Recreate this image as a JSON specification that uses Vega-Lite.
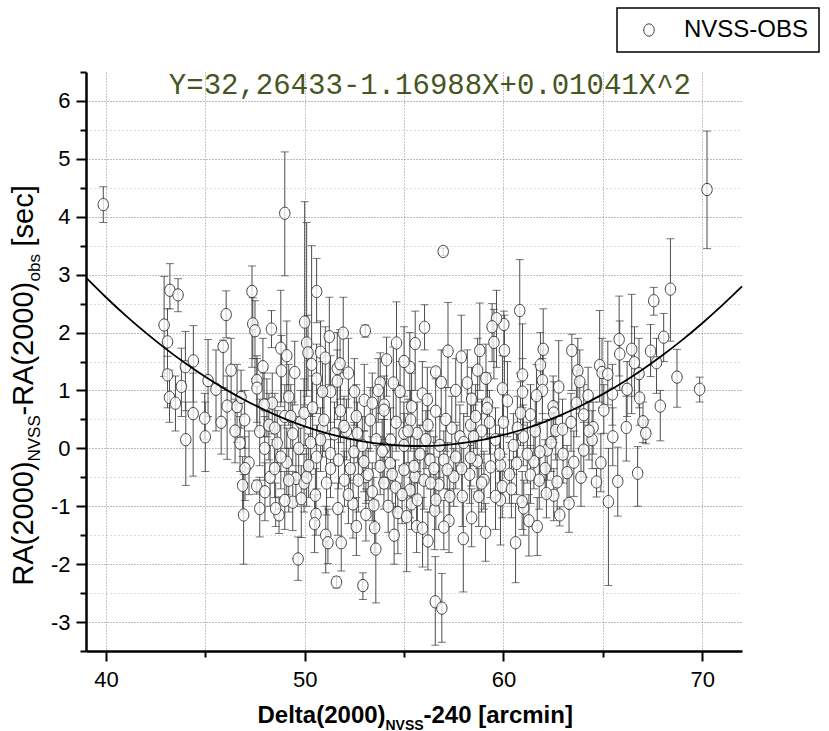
{
"$schema": "https://vega.github.io/schema/vega-lite/v6.json",
"width": 656, "height": 579,
"autosize": {"type": "none"},
"padding": {"left": 86, "top": 72, "right": 87, "bottom": 80},
"background": "white",
"config": {
 "view": {"stroke": null},
 "axis": {"labelColor": "black", "titleColor": "black", "labelFont": "Liberation Sans", "titleFont": "Liberation Sans", "titleFontWeight": "normal"},
 "legend": {"strokeColor": "black", "strokeWidth": 1.5, "padding": 10}
},
"datasets": {
 "pts": [
{"x":39.87,"y":4.21,"lo":3.90,"hi":4.52},{"x":49.0,"y":4.06,"lo":2.98,"hi":5.12},{"x":43.22,"y":2.73,"lo":2.41,"hi":3.19},{"x":43.63,"y":2.65,"lo":2.36,"hi":2.93},{"x":42.93,"y":2.13,"lo":1.24,"hi":2.97},{"x":43.1,"y":1.84,"lo":1.30,"hi":2.41},{"x":43.1,"y":1.27,"lo":0.70,"hi":1.59},{"x":43.2,"y":0.88,"lo":0.45,"hi":1.35},{"x":43.5,"y":0.78,"lo":0.30,"hi":1.25},{"x":43.8,"y":1.07,"lo":0.55,"hi":1.73},{"x":44.0,"y":1.41,"lo":0.65,"hi":2.02},{"x":44.4,"y":1.51,"lo":0.80,"hi":2.12},{"x":46.05,"y":2.31,"lo":1.91,"hi":2.72},{"x":45.9,"y":1.76,"lo":1.05,"hi":1.87},{"x":45.14,"y":1.17,"lo":0.55,"hi":1.88},{"x":45.54,"y":1.02,"lo":0.30,"hi":1.70},{"x":46.1,"y":0.73,"lo":-0.19,"hi":1.25},{"x":46.6,"y":0.72,"lo":0.10,"hi":1.45},{"x":46.8,"y":0.88,"lo":0.35,"hi":1.35},{"x":47.35,"y":2.71,"lo":1.40,"hi":3.15},{"x":47.39,"y":2.15,"lo":1.55,"hi":2.60},{"x":47.5,"y":2.03,"lo":1.20,"hi":2.55},{"x":47.9,"y":1.41,"lo":0.80,"hi":1.90},{"x":47.6,"y":1.17,"lo":0.45,"hi":1.60},{"x":47.6,"y":1.04,"lo":0.30,"hi":1.55},{"x":48.33,"y":2.06,"lo":1.74,"hi":2.38},{"x":48.8,"y":1.73,"lo":0.72,"hi":2.73},{"x":48.83,"y":1.34,"lo":0.80,"hi":1.95},{"x":49.2,"y":0.89,"lo":0.40,"hi":1.45},{"x":49.5,"y":1.31,"lo":0.75,"hi":1.85},{"x":48.1,"y":0.75,"lo":0.20,"hi":1.20},{"x":48.37,"y":0.78,"lo":0.25,"hi":1.30},{"x":50.0,"y":2.18,"lo":0.75,"hi":4.26},{"x":50.1,"y":1.82,"lo":0.90,"hi":3.90},{"x":50.17,"y":1.65,"lo":1.00,"hi":2.30},{"x":50.35,"y":1.45,"lo":0.55,"hi":3.50},{"x":50.6,"y":2.71,"lo":2.17,"hi":3.28},{"x":50.8,"y":1.66,"lo":1.00,"hi":2.20},{"x":51.24,"y":1.93,"lo":1.10,"hi":2.61},{"x":51.04,"y":1.56,"lo":0.90,"hi":2.10},{"x":51.64,"y":1.38,"lo":0.70,"hi":2.00},{"x":51.94,"y":1.99,"lo":1.30,"hi":2.61},{"x":51.78,"y":1.46,"lo":0.85,"hi":2.05},{"x":51.64,"y":1.16,"lo":0.50,"hi":1.70},{"x":51.3,"y":0.98,"lo":0.30,"hi":1.60},{"x":50.9,"y":0.98,"lo":0.40,"hi":1.50},{"x":53.05,"y":2.03,"lo":1.92,"hi":2.13},{"x":54.62,"y":1.82,"lo":1.10,"hi":2.53},{"x":54.12,"y":1.53,"lo":0.90,"hi":1.92},{"x":55.56,"y":1.81,"lo":1.00,"hi":2.37},{"x":55.29,"y":1.40,"lo":0.80,"hi":2.00},{"x":54.46,"y":1.13,"lo":0.50,"hi":1.75},{"x":53.8,"y":1.13,"lo":0.60,"hi":1.65},{"x":52.5,"y":0.98,"lo":0.40,"hi":1.55},{"x":53.0,"y":0.83,"lo":0.30,"hi":1.45},{"x":53.4,"y":0.78,"lo":0.20,"hi":1.30},{"x":54.0,"y":0.75,"lo":0.15,"hi":1.25},{"x":54.8,"y":0.98,"lo":0.45,"hi":1.50},{"x":55.38,"y":0.72,"lo":0.20,"hi":1.30},
{"x":70.24,"y":4.47,"lo":3.45,"hi":5.48},{"x":56.97,"y":3.40,"lo":3.33,"hi":3.46},{"x":68.4,"y":2.75,"lo":1.85,"hi":3.62},{"x":67.56,"y":2.55,"lo":2.30,"hi":2.78},{"x":68.06,"y":1.92,"lo":1.50,"hi":2.33},{"x":67.4,"y":1.68,"lo":1.24,"hi":2.14},{"x":67.7,"y":1.48,"lo":0.95,"hi":1.90},{"x":68.73,"y":1.23,"lo":0.71,"hi":1.71},{"x":69.87,"y":1.02,"lo":0.80,"hi":1.23},{"x":65.82,"y":1.88,"lo":1.25,"hi":2.63},{"x":65.85,"y":1.63,"lo":1.00,"hi":2.20},{"x":66.45,"y":1.71,"lo":0.60,"hi":2.66},{"x":66.59,"y":1.48,"lo":0.90,"hi":2.10},{"x":66.82,"y":1.29,"lo":0.70,"hi":1.90},{"x":66.85,"y":0.87,"lo":0.40,"hi":1.30},{"x":66.22,"y":1.02,"lo":0.55,"hi":1.50},{"x":64.84,"y":1.43,"lo":0.80,"hi":2.38},{"x":64.96,"y":1.31,"lo":0.70,"hi":1.90},{"x":65.25,"y":1.28,"lo":0.75,"hi":1.85},{"x":65.48,"y":0.94,"lo":0.40,"hi":1.45},{"x":64.26,"y":0.91,"lo":0.40,"hi":1.40},{"x":63.44,"y":1.69,"lo":1.00,"hi":1.97},{"x":63.74,"y":1.34,"lo":0.75,"hi":1.90},{"x":63.84,"y":1.15,"lo":0.60,"hi":1.70},{"x":63.67,"y":0.78,"lo":0.20,"hi":1.35},{"x":62.78,"y":1.06,"lo":0.55,"hi":1.86},{"x":62.0,"y":1.71,"lo":1.10,"hi":2.41},{"x":61.86,"y":1.44,"lo":0.90,"hi":2.00},{"x":61.96,"y":1.17,"lo":0.60,"hi":1.70},{"x":61.96,"y":1.00,"lo":0.45,"hi":1.55},{"x":61.66,"y":0.91,"lo":0.35,"hi":1.45},{"x":60.96,"y":1.27,"lo":0.70,"hi":2.15},{"x":60.96,"y":0.97,"lo":0.40,"hi":1.55},{"x":60.82,"y":2.38,"lo":1.30,"hi":3.26},{"x":60.05,"y":1.69,"lo":1.00,"hi":2.30},{"x":60.02,"y":2.14,"lo":1.60,"hi":2.37},{"x":59.65,"y":2.24,"lo":1.40,"hi":2.73},{"x":59.52,"y":1.83,"lo":1.20,"hi":2.40},{"x":59.43,"y":2.10,"lo":1.50,"hi":2.50},{"x":59.95,"y":1.03,"lo":0.50,"hi":1.60},{"x":59.12,"y":1.21,"lo":0.60,"hi":1.80},{"x":58.81,"y":1.69,"lo":1.00,"hi":2.51},{"x":57.88,"y":1.58,"lo":0.80,"hi":2.30},{"x":58.18,"y":1.13,"lo":0.55,"hi":1.70},{"x":57.21,"y":1.68,"lo":1.05,"hi":2.52},{"x":56.87,"y":1.14,"lo":0.55,"hi":1.70},{"x":56.59,"y":1.32,"lo":1.25,"hi":1.40},{"x":56.03,"y":2.09,"lo":1.70,"hi":2.48},{"x":55.92,"y":0.94,"lo":0.40,"hi":1.50},{"x":56.17,"y":0.84,"lo":0.30,"hi":1.40},{"x":58.4,"y":0.85,"lo":0.30,"hi":1.40},{"x":59.2,"y":0.78,"lo":0.25,"hi":1.30},{"x":60.2,"y":0.82,"lo":0.20,"hi":1.50},{"x":62.5,"y":0.72,"lo":0.15,"hi":1.25},
{"x":44.02,"y":0.15,"lo":-0.64,"hi":0.80},{"x":44.39,"y":0.60,"lo":-0.48,"hi":1.30},{"x":44.97,"y":0.52,"lo":0.16,"hi":0.95},{"x":46.88,"y":-0.64,"lo":-1.10,"hi":-0.14},{"x":46.93,"y":-1.15,"lo":-2.00,"hi":-0.45},{"x":47.59,"y":-0.65,"lo":-0.79,"hi":-0.55},{"x":47.74,"y":-1.04,"lo":-1.53,"hi":-0.50},{"x":47.74,"y":0.29,"lo":-0.30,"hi":0.85},{"x":47.99,"y":0.0,"lo":-0.55,"hi":0.55},{"x":48.26,"y":-0.50,"lo":-1.00,"hi":0.05},{"x":48.49,"y":-0.35,"lo":-0.85,"hi":0.15},{"x":48.62,"y":0.09,"lo":-0.40,"hi":0.65},{"x":48.71,"y":-1.15,"lo":-1.47,"hi":-0.84},{"x":48.54,"y":-1.04,"lo":-1.35,"hi":-0.60},{"x":49.1,"y":-0.24,"lo":-0.80,"hi":0.35},{"x":49.4,"y":-0.93,"lo":-1.42,"hi":-0.40},{"x":49.83,"y":-0.87,"lo":-1.54,"hi":-0.30},{"x":49.67,"y":-1.91,"lo":-2.28,"hi":-1.53},{"x":49.56,"y":-0.52,"lo":-1.00,"hi":0.00},{"x":49.97,"y":-0.60,"lo":-1.10,"hi":-0.10},{"x":50.54,"y":-0.81,"lo":-1.20,"hi":-0.35},{"x":50.57,"y":-1.14,"lo":-1.50,"hi":-0.80},{"x":51.06,"y":-1.50,"lo":-2.15,"hi":-1.00},{"x":51.17,"y":-1.63,"lo":-1.99,"hi":-1.05},{"x":51.84,"y":-1.63,"lo":-2.12,"hi":-1.10},{"x":51.6,"y":-2.31,"lo":-2.41,"hi":-2.22},{"x":52.93,"y":-2.37,"lo":-2.61,"hi":-2.15},{"x":53.58,"y":-1.74,"lo":-2.67,"hi":-1.30},{"x":51.67,"y":-1.04,"lo":-1.50,"hi":-0.60},{"x":52.43,"y":-0.96,"lo":-1.55,"hi":-0.60},{"x":53.08,"y":-1.14,"lo":-1.60,"hi":-0.70},{"x":53.52,"y":-1.37,"lo":-1.80,"hi":-0.90},{"x":53.48,"y":-0.98,"lo":-1.40,"hi":-0.50},{"x":53.08,"y":-0.49,"lo":-0.95,"hi":0.00},{"x":54.2,"y":-1.00,"lo":-1.45,"hi":-0.50},{"x":54.69,"y":-1.11,"lo":-1.82,"hi":-0.60},{"x":55.13,"y":-1.18,"lo":-2.13,"hi":-0.70},{"x":55.63,"y":-1.35,"lo":-1.80,"hi":-0.90},{"x":55.38,"y":-0.96,"lo":-1.40,"hi":-0.50},{"x":54.57,"y":-0.67,"lo":-1.10,"hi":-0.20},{"x":53.99,"y":-0.60,"lo":-1.05,"hi":-0.15},{"x":53.2,"y":-0.45,"lo":-0.90,"hi":0.00},{"x":52.0,"y":-0.55,"lo":-1.00,"hi":-0.05},{"x":51.3,"y":-0.35,"lo":-0.85,"hi":0.15},{"x":50.1,"y":-0.50,"lo":-1.00,"hi":0.00},{"x":50.6,"y":-0.15,"lo":-0.70,"hi":0.40},{"x":51.3,"y":-0.09,"lo":-0.60,"hi":0.45},{"x":51.7,"y":-0.20,"lo":-0.70,"hi":0.35},{"x":52.48,"y":-0.06,"lo":-0.55,"hi":0.45},{"x":52.98,"y":-0.23,"lo":-0.75,"hi":0.30},{"x":53.8,"y":-0.31,"lo":-0.80,"hi":0.20},{"x":54.3,"y":-0.26,"lo":-0.70,"hi":0.25},{"x":55.0,"y":-0.37,"lo":-0.85,"hi":0.10},{"x":55.3,"y":-0.72,"lo":-1.20,"hi":-0.25},{"x":55.55,"y":-0.49,"lo":-0.90,"hi":0.00},{"x":52.1,"y":0.30,"lo":-0.20,"hi":0.85},{"x":50.9,"y":0.35,"lo":-0.15,"hi":0.90},{"x":49.8,"y":0.45,"lo":-0.10,"hi":1.00},{"x":49.0,"y":0.55,"lo":0.00,"hi":1.10},{"x":48.2,"y":0.40,"lo":-0.20,"hi":0.95},{"x":46.98,"y":0.49,"lo":0.00,"hi":1.00},{"x":46.75,"y":0.09,"lo":-0.40,"hi":0.55},
{"x":47.96,"y":0.75,"lo":0.20,"hi":1.30},{"x":49.3,"y":0.55,"lo":0.00,"hi":1.10},{"x":49.97,"y":0.61,"lo":0.05,"hi":1.20},{"x":50.97,"y":0.49,"lo":-0.05,"hi":1.05},{"x":51.98,"y":0.38,"lo":-0.15,"hi":0.90},{"x":52.65,"y":0.26,"lo":-0.25,"hi":0.80},{"x":53.3,"y":0.49,"lo":-0.05,"hi":1.05},{"x":53.99,"y":0.66,"lo":0.10,"hi":1.20},{"x":54.32,"y":0.14,"lo":-0.40,"hi":0.70},{"x":54.99,"y":0.26,"lo":-0.30,"hi":0.80},{"x":55.33,"y":0.49,"lo":-0.05,"hi":1.00},
{"x":56.57,"y":-2.65,"lo":-3.40,"hi":-1.87},{"x":56.9,"y":-2.76,"lo":-3.35,"hi":-2.16},{"x":57.98,"y":-1.56,"lo":-2.48,"hi":-0.90},{"x":60.61,"y":-1.63,"lo":-2.32,"hi":-0.95},{"x":65.28,"y":-0.92,"lo":-2.37,"hi":0.00},{"x":65.75,"y":-0.57,"lo":-1.17,"hi":0.02},{"x":66.75,"y":-0.43,"lo":-1.00,"hi":0.03},{"x":64.68,"y":-0.58,"lo":-0.84,"hi":-0.35},{"x":66.18,"y":0.36,"lo":-0.22,"hi":0.90},{"x":67.16,"y":0.26,"lo":0.08,"hi":0.49},{"x":67.02,"y":0.46,"lo":0.10,"hi":0.80},{"x":67.89,"y":0.73,"lo":0.13,"hi":1.00},{"x":65.05,"y":0.66,"lo":0.26,"hi":1.10},{"x":64.51,"y":0.36,"lo":-0.10,"hi":0.80},{"x":64.04,"y":-0.03,"lo":-0.50,"hi":0.45},{"x":63.54,"y":-0.24,"lo":-0.83,"hi":0.30},{"x":63.2,"y":-0.42,"lo":-0.90,"hi":0.05},{"x":62.63,"y":0.31,"lo":-0.20,"hi":0.80},{"x":62.97,"y":0.33,"lo":-0.15,"hi":0.85},{"x":62.7,"y":-0.58,"lo":-1.10,"hi":-0.10},{"x":62.53,"y":-0.81,"lo":-1.25,"hi":-0.35},{"x":62.16,"y":-0.78,"lo":-1.20,"hi":-0.30},{"x":62.83,"y":-1.15,"lo":-1.34,"hi":-1.01},{"x":61.28,"y":-1.25,"lo":-1.86,"hi":-0.80},{"x":61.02,"y":-1.03,"lo":-1.50,"hi":-0.55},{"x":60.94,"y":-0.92,"lo":-1.40,"hi":-0.40},{"x":59.85,"y":-0.89,"lo":-1.67,"hi":-0.40},{"x":62.2,"y":-0.03,"lo":-0.55,"hi":0.50},{"x":61.83,"y":-0.06,"lo":-0.60,"hi":0.45},{"x":61.53,"y":-0.23,"lo":-0.70,"hi":0.30},{"x":61.36,"y":-0.46,"lo":-0.95,"hi":0.05},{"x":60.66,"y":-0.26,"lo":-0.80,"hi":0.30},{"x":59.94,"y":-0.66,"lo":-1.20,"hi":-0.15},{"x":59.6,"y":-0.83,"lo":-1.40,"hi":-0.30},{"x":59.85,"y":-0.29,"lo":-0.80,"hi":0.25},{"x":57.26,"y":-1.25,"lo":-1.80,"hi":-0.70},{"x":57.0,"y":-1.36,"lo":-1.75,"hi":-0.90},{"x":55.93,"y":-1.38,"lo":-2.05,"hi":-0.85},{"x":56.54,"y":-1.07,"lo":-1.75,"hi":-0.60},{"x":57.93,"y":-0.83,"lo":-1.35,"hi":-0.30},{"x":58.76,"y":-0.83,"lo":-1.35,"hi":-0.35},{"x":57.3,"y":-0.83,"lo":-1.30,"hi":-0.35},{"x":56.75,"y":-0.63,"lo":-1.10,"hi":-0.15},{"x":56.6,"y":-0.89,"lo":-1.40,"hi":-0.40},{"x":57.81,"y":0.20,"lo":-0.30,"hi":0.75},{"x":57.0,"y":-0.20,"lo":-0.70,"hi":0.30},{"x":56.3,"y":-0.20,"lo":-0.70,"hi":0.30},{"x":55.66,"y":0.26,"lo":-0.25,"hi":0.80},{"x":56.59,"y":0.64,"lo":0.10,"hi":1.20},{"x":58.35,"y":0.40,"lo":-0.10,"hi":0.95},{"x":59.18,"y":0.69,"lo":0.15,"hi":1.25},{"x":60.86,"y":0.61,"lo":0.05,"hi":1.15},{"x":61.36,"y":0.58,"lo":0.00,"hi":1.10},{"x":62.53,"y":0.61,"lo":0.10,"hi":1.15},{"x":64.04,"y":0.58,"lo":0.05,"hi":1.10},{"x":64.46,"y":0.15,"lo":-0.35,"hi":0.65},{"x":59.02,"y":-0.55,"lo":-1.05,"hi":-0.05},{"x":59.35,"y":-0.32,"lo":-0.85,"hi":0.20},{"x":58.68,"y":-0.22,"lo":-0.75,"hi":0.30},{"x":58.35,"y":-0.16,"lo":-0.65,"hi":0.35},{"x":57.5,"y":-0.49,"lo":-1.00,"hi":0.00},{"x":57.17,"y":-0.37,"lo":-0.85,"hi":0.10},{"x":56.0,"y":-0.55,"lo":-1.05,"hi":-0.05},{"x":55.67,"y":-0.89,"lo":-1.40,"hi":-0.40},{"x":56.34,"y":-0.60,"lo":-1.10,"hi":-0.10},{"x":55.5,"y":-0.31,"lo":-0.80,"hi":0.20},
{"x":58.0,"y":0.1,"lo":-0.4,"hi":0.6},{"x":58.9,"y":0.3,"lo":-0.25,"hi":0.85},{"x":59.6,"y":0.15,"lo":-0.35,"hi":0.7},{"x":60.5,"y":0.05,"lo":-0.45,"hi":0.6},{"x":61.0,"y":0.2,"lo":-0.3,"hi":0.75},{"x":60.0,"y":0.45,"lo":-0.1,"hi":1.0},{"x":58.6,"y":0.55,"lo":0.0,"hi":1.1},{"x":57.4,"y":0.35,"lo":-0.15,"hi":0.9},{"x":56.8,"y":0.05,"lo":-0.5,"hi":0.55},{"x":56.2,"y":0.4,"lo":-0.1,"hi":0.95},{"x":55.0,"y":0.05,"lo":-0.45,"hi":0.6},{"x":54.6,"y":0.45,"lo":-0.05,"hi":1.0},{"x":53.6,"y":0.15,"lo":-0.35,"hi":0.7},{"x":52.6,"y":0.55,"lo":0.0,"hi":1.1},{"x":51.8,"y":0.65,"lo":0.1,"hi":1.2},{"x":50.4,"y":0.7,"lo":0.15,"hi":1.25},{"x":49.4,"y":0.25,"lo":-0.3,"hi":0.8},{"x":48.8,"y":-0.15,"lo":-0.7,"hi":0.4},{"x":50.3,"y":0.1,"lo":-0.45,"hi":0.65},{"x":52.3,"y":-0.35,"lo":-0.85,"hi":0.15},{"x":54.0,"y":0.0,"lo":-0.5,"hi":0.5},{"x":58.3,"y":-0.45,"lo":-0.95,"hi":0.05},{"x":60.3,"y":-0.45,"lo":-0.95,"hi":0.1},{"x":61.8,"y":-0.55,"lo":-1.05,"hi":-0.05},
{"x":48.5,"y":0.35,"lo":-0.25,"hi":0.95},{"x":49.2,"y":-0.55,"lo":-1.1,"hi":0.0},{"x":49.7,"y":0.0,"lo":-0.55,"hi":0.55},{"x":50.2,"y":-0.3,"lo":-0.85,"hi":0.25},{"x":50.8,"y":0.15,"lo":-0.4,"hi":0.7},{"x":51.1,"y":-0.6,"lo":-1.15,"hi":-0.05},{"x":51.5,"y":0.25,"lo":-0.3,"hi":0.8},{"x":52.2,"y":-0.8,"lo":-1.3,"hi":-0.3},{"x":52.7,"y":-0.55,"lo":-1.1,"hi":0.0},{"x":52.9,"y":0.05,"lo":-0.45,"hi":0.55},{"x":53.4,"y":-0.75,"lo":-1.25,"hi":-0.25},{"x":53.9,"y":-0.05,"lo":-0.6,"hi":0.5},{"x":54.4,"y":-0.45,"lo":-0.95,"hi":0.05},{"x":54.9,"y":-0.8,"lo":-1.3,"hi":-0.3},{"x":55.2,"y":0.3,"lo":-0.25,"hi":0.85},{"x":55.8,"y":-0.1,"lo":-0.6,"hi":0.4},{"x":56.1,"y":0.15,"lo":-0.35,"hi":0.65},{"x":56.5,"y":-0.35,"lo":-0.9,"hi":0.2},{"x":57.1,"y":0.5,"lo":-0.05,"hi":1.05},{"x":57.6,"y":-0.15,"lo":-0.7,"hi":0.4},{"x":57.9,"y":-0.35,"lo":-0.85,"hi":0.15},{"x":58.5,"y":0.2,"lo":-0.3,"hi":0.75},{"x":58.9,"y":-0.6,"lo":-1.1,"hi":-0.1},{"x":59.3,"y":0.45,"lo":-0.1,"hi":1.0},{"x":59.8,"y":-0.1,"lo":-0.6,"hi":0.4},{"x":60.4,"y":-0.7,"lo":-1.2,"hi":-0.2},{"x":60.7,"y":0.35,"lo":-0.15,"hi":0.9},{"x":61.2,"y":-0.1,"lo":-0.6,"hi":0.45},{"x":61.6,"y":0.3,"lo":-0.2,"hi":0.85},{"x":62.1,"y":-0.35,"lo":-0.85,"hi":0.15},{"x":62.4,"y":0.1,"lo":-0.4,"hi":0.6},{"x":63.0,"y":-0.1,"lo":-0.6,"hi":0.4},{"x":63.4,"y":0.45,"lo":-0.05,"hi":0.95},{"x":63.9,"y":-0.5,"lo":-1.0,"hi":0.0},{"x":64.3,"y":0.3,"lo":-0.2,"hi":0.8},{"x":65.5,"y":0.2,"lo":-0.3,"hi":0.7},{"x":48.0,"y":-0.75,"lo":-1.25,"hi":-0.25},{"x":47.2,"y":-0.25,"lo":-0.8,"hi":0.3},{"x":46.5,"y":0.3,"lo":-0.25,"hi":0.85},{"x":45.8,"y":0.45,"lo":-0.1,"hi":1.0},{"x":50.5,"y":-1.3,"lo":-1.8,"hi":-0.8},{"x":52.6,"y":-1.35,"lo":-1.85,"hi":-0.85},{"x":54.5,"y":-1.5,"lo":-2.0,"hi":-1.0},{"x":56.2,"y":-1.6,"lo":-2.1,"hi":-1.1},{"x":58.4,"y":-1.2,"lo":-1.7,"hi":-0.7},{"x":59.1,"y":-1.45,"lo":-1.95,"hi":-0.95},{"x":61.7,"y":-1.35,"lo":-1.85,"hi":-0.85},{"x":63.3,"y":-0.95,"lo":-1.45,"hi":-0.45},{"x":64.9,"y":-0.25,"lo":-0.75,"hi":0.25},{"x":53.7,"y":1.0,"lo":0.45,"hi":1.55},{"x":55.0,"y":1.5,"lo":0.9,"hi":2.1},{"x":57.6,"y":1.0,"lo":0.45,"hi":1.55},{"x":58.7,"y":1.35,"lo":0.8,"hi":1.9},{"x":52.2,"y":1.3,"lo":0.7,"hi":1.9},{"x":50.6,"y":1.2,"lo":0.6,"hi":1.8},{"x":49.1,"y":1.6,"lo":0.95,"hi":2.2},{"x":46.3,"y":1.35,"lo":0.8,"hi":1.9},{"x":45.0,"y":0.2,"lo":-0.4,"hi":0.8},{"x":47.0,"y":-0.35,"lo":-0.9,"hi":0.2},{"x":49.0,"y":-0.9,"lo":-1.4,"hi":-0.4}
 ],
 "curve": [
{"x":39,"y":2.947},{"x":40,"y":2.610},{"x":41,"y":2.293},{"x":42,"y":1.998},{"x":43,"y":1.723},{"x":44,"y":1.469},{"x":45,"y":1.235},{"x":46,"y":1.023},{"x":47,"y":0.831},{"x":48,"y":0.660},{"x":49,"y":0.510},{"x":50,"y":0.380},{"x":51,"y":0.272},{"x":52,"y":0.184},{"x":53,"y":0.117},{"x":54,"y":0.071},{"x":55,"y":0.045},{"x":56,"y":0.041},{"x":57,"y":0.057},{"x":58,"y":0.094},{"x":59,"y":0.152},{"x":60,"y":0.231},{"x":61,"y":0.330},{"x":62,"y":0.450},{"x":63,"y":0.591},{"x":64,"y":0.753},{"x":65,"y":0.936},{"x":66,"y":1.139},{"x":67,"y":1.363},{"x":68,"y":1.608},{"x":69,"y":1.874},{"x":70,"y":2.161},{"x":71,"y":2.468},{"x":72,"y":2.796}
 ]
},
"resolve": {"scale": {"x": "independent", "y": "independent"}, "axis": {"x": "independent", "y": "independent"}},
"layer": [
 {
  "data": {"name": "pts"},
  "mark": {"type": "rule", "color": "#4d4d4d", "strokeWidth": 1},
  "encoding": {
   "x": {"field": "x", "type": "quantitative", "scale": {"domain": [39, 72], "nice": false, "zero": false},
    "axis": {"orient": "bottom", "values": [40,45,50,55,60,65,70], "labelExpr": "datum.value % 10 === 0 ? '' + datum.value : ''", "labelFontSize": 22, "labelPadding": 8, "labelFlush": false, "labelOverlap": false,
     "domain": true, "domainColor": "black", "domainWidth": 2.5, "ticks": true, "tickColor": "black", "tickWidth": 2,
     "tickSize": {"condition": {"test": "datum.value % 10 === 0", "value": 10}, "value": 6},
     "grid": true, "gridColor": "#8c8c8c", "gridDash": [1, 2], "gridWidth": 1,
     "title": "Delta(2000)", "titleFontWeight": "bold", "titleFontSize": 24, "titleX": 171, "titleY": 71, "titleAlign": "left", "titleBaseline": "alphabetic", "titleAngle": 0}},
   "y": {"field": "lo", "type": "quantitative", "scale": {"domain": [-3.5, 6.5], "nice": false, "zero": false},
    "axis": {"orient": "left", "values": [-3.5,-3,-2.5,-2,-1.5,-1,-0.5,0,0.5,1,1.5,2,2.5,3,3.5,4,4.5,5,5.5,6,6.5], "labelExpr": "datum.value % 1 === 0 ? '' + datum.value : ''", "labelFontSize": 22, "labelPadding": 6, "labelFlush": false, "labelOverlap": false,
     "domain": true, "domainColor": "black", "domainWidth": 2.5, "ticks": true, "tickColor": "black", "tickWidth": 2,
     "tickSize": {"condition": {"test": "datum.value % 1 === 0", "value": 10}, "value": 6},
     "grid": true, "gridColor": {"condition": {"test": "datum.value % 1 === 0", "value": "#7a7a7a"}, "value": "#b5b5b5"},
     "gridDash": {"condition": {"test": "datum.value % 1 === 0", "value": [1, 2]}, "value": [1, 3]},
     "gridOpacity": {"condition": {"test": "datum.value > 6.2 || datum.value < -3.2", "value": 0}, "value": 1},
     "title": "RA(2000)", "titleFontSize": 29, "titleX": -54, "titleY": 513, "titleAngle": 270, "titleAlign": "left", "titleBaseline": "alphabetic"}},
   "y2": {"field": "hi"}
  }
 },
 {
  "data": {"name": "pts"},
  "mark": {"type": "tick", "orient": "horizontal", "size": 8, "thickness": 1, "color": "#3a3a3a"},
  "encoding": {
   "x": {"field": "x", "type": "quantitative", "scale": {"domain": [39, 72], "nice": false, "zero": false},
    "axis": {"orient": "bottom", "domain": false, "ticks": false, "labels": false, "grid": false, "title": "NVSS", "titleFontWeight": "bold", "titleFontSize": 14, "titleX": 299, "titleY": 78, "titleAlign": "left", "titleBaseline": "alphabetic", "titleAngle": 0}},
   "y": {"field": "lo", "type": "quantitative", "scale": {"domain": [-3.5, 6.5], "nice": false, "zero": false},
    "axis": {"orient": "left", "domain": false, "ticks": false, "labels": false, "grid": false, "title": "NVSS", "titleFontSize": 17, "titleX": -46.5, "titleY": 389, "titleAngle": 270, "titleAlign": "left", "titleBaseline": "alphabetic"}}
  }
 },
 {
  "data": {"name": "pts"},
  "mark": {"type": "tick", "orient": "horizontal", "size": 8, "thickness": 1, "color": "#3a3a3a"},
  "encoding": {
   "x": {"field": "x", "type": "quantitative", "scale": {"domain": [39, 72], "nice": false, "zero": false},
    "axis": {"orient": "bottom", "domain": false, "ticks": false, "labels": false, "grid": false, "title": "-240 [arcmin]", "titleFontWeight": "bold", "titleFontSize": 24, "titleX": 337, "titleY": 71, "titleAlign": "left", "titleBaseline": "alphabetic", "titleAngle": 0}},
   "y": {"field": "hi", "type": "quantitative", "scale": {"domain": [-3.5, 6.5], "nice": false, "zero": false},
    "axis": {"orient": "left", "domain": false, "ticks": false, "labels": false, "grid": false, "title": "-RA(2000)", "titleFontSize": 29, "titleX": -54, "titleY": 343, "titleAngle": 270, "titleAlign": "left", "titleBaseline": "alphabetic"}}
  }
 },
 {
  "data": {"name": "pts"},
  "mark": {"type": "point", "shape": "M -0.85 0 A 0.85 1 0 1 1 0.85 0 A 0.85 1 0 1 1 -0.85 0 Z", "size": 150, "fill": "white", "fillOpacity": 0.75, "strokeWidth": 1, "opacity": 1},
  "encoding": {
   "x": {"field": "x", "type": "quantitative", "scale": {"domain": [39, 72], "nice": false, "zero": false}, "axis": null},
   "y": {"field": "y", "type": "quantitative", "scale": {"domain": [-3.5, 6.5], "nice": false, "zero": false},
    "axis": {"orient": "left", "domain": false, "ticks": false, "labels": false, "grid": false, "title": "obs", "titleFontSize": 17, "titleX": -46.5, "titleY": 209, "titleAngle": 270, "titleAlign": "left", "titleBaseline": "alphabetic"}},
   "stroke": {"datum": "NVSS-OBS", "type": "nominal", "scale": {"range": ["#3c3c3c"]},
    "legend": {"title": null, "orient": "none", "legendX": 531, "legendY": -64, "symbolType": "M -0.85 0 A 0.85 1 0 1 1 0.85 0 A 0.85 1 0 1 1 -0.85 0 Z", "symbolSize": 150, "symbolFillColor": "white", "symbolStrokeWidth": 1, "symbolOffset": 10, "labelOffset": 23, "labelFont": "Liberation Sans", "labelFontSize": 24, "labelColor": "black", "padding": 10, "strokeColor": "black"}}
  }
 },
 {
  "data": {"name": "curve"},
  "mark": {"type": "line", "color": "black", "strokeWidth": 1.8, "interpolate": "monotone"},
  "encoding": {
   "x": {"field": "x", "type": "quantitative", "scale": {"domain": [39, 72], "nice": false, "zero": false}, "axis": null},
   "y": {"field": "y", "type": "quantitative", "scale": {"domain": [-3.5, 6.5], "nice": false, "zero": false},
    "axis": {"orient": "left", "domain": false, "ticks": false, "labels": false, "grid": false, "title": "[sec]", "titleFontSize": 29, "titleX": -54, "titleY": 174, "titleAngle": 270, "titleAlign": "left", "titleBaseline": "alphabetic"}}
  }
 },
 {
  "data": {"values": [{"label": "Y=32,26433-1.16988X+0.01041X^2"}]},
  "mark": {"type": "text", "font": "Liberation Mono", "fontSize": 29, "color": "#47561f", "align": "center", "baseline": "alphabetic"},
  "encoding": {
   "x": {"datum": 56.3, "type": "quantitative", "scale": {"domain": [39, 72], "nice": false, "zero": false}, "axis": null},
   "y": {"datum": 6.12, "type": "quantitative", "scale": {"domain": [-3.5, 6.5], "nice": false, "zero": false}, "axis": null},
   "text": {"field": "label"}
  }
 }
]
}
